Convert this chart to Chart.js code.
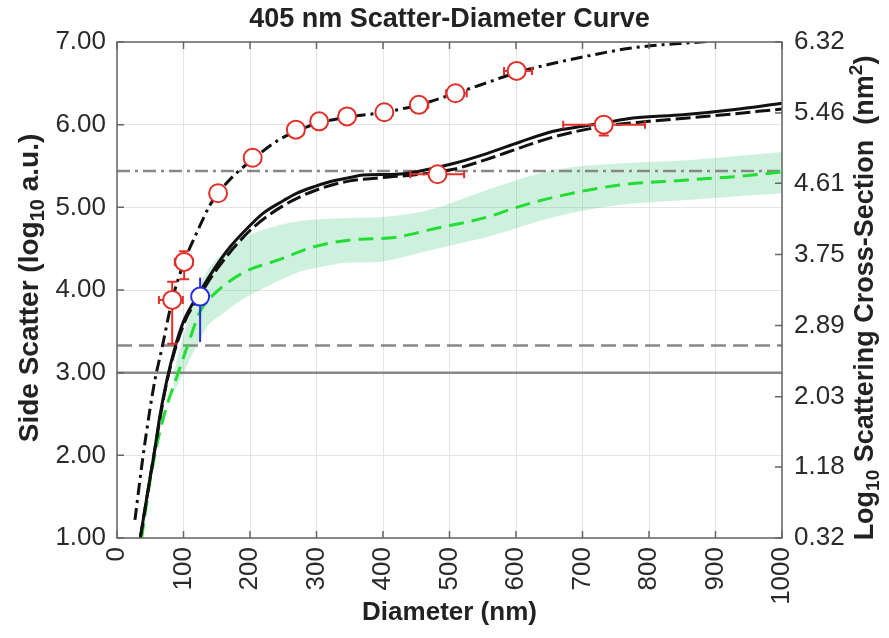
<!DOCTYPE html>
<html>
<head>
<meta charset="utf-8">
<script src="https://cdn.jsdelivr.net/npm/chart.js@4.4.0/dist/chart.umd.min.js"></script>
<style>
  html, body { margin: 0; padding: 0; background: #fff; }
</style>
</head>
<body>
<canvas id="chart" width="889" height="638"></canvas>
<script>
// ---- data ----
const dashDotDiam = [27, 38, 50, 57, 68, 83, 102, 122, 140, 152, 175, 204, 240, 269, 304, 346, 402, 454, 509, 550, 601, 650, 701, 776, 877, 1000];
const dashDotSSC  = [1.22, 1.92, 2.58, 2.91, 3.31, 3.88, 4.36, 4.73, 5.03, 5.17, 5.38, 5.58, 5.80, 5.92, 6.02, 6.09, 6.15, 6.24, 6.38, 6.49, 6.63, 6.73, 6.82, 6.93, 7.00, 7.08];

const solidDiam = [35, 45, 55, 65, 75, 86, 100, 125, 150, 170, 200, 220, 250, 270, 300, 320, 350, 370, 420, 456, 506, 556, 606, 656, 700, 731, 776, 851, 926, 1000];
const solidSSC  = [1.00, 1.50, 1.98, 2.50, 2.91, 3.27, 3.62, 3.98, 4.30, 4.52, 4.78, 4.93, 5.08, 5.17, 5.26, 5.31, 5.36, 5.39, 5.40, 5.44, 5.53, 5.65, 5.79, 5.92, 5.98, 6.02, 6.08, 6.12, 6.18, 6.26];

const dashedDiam = [35, 55, 75, 100, 125, 150, 200, 250, 300, 350, 400, 456, 506, 556, 606, 656, 731, 800, 900, 1000];
const dashedSSC  = [1.00, 1.98, 2.89, 3.58, 3.94, 4.25, 4.72, 5.02, 5.21, 5.32, 5.36, 5.40, 5.46, 5.58, 5.72, 5.85, 5.98, 6.04, 6.11, 6.19];

const greenDiam = [37, 50, 62, 75, 90, 105, 125, 150, 190, 245, 295, 346, 421, 471, 556, 601, 656, 756, 857, 956, 1000];
const greenSSC  = [1.00, 1.70, 2.20, 2.60, 2.95, 3.30, 3.74, 3.98, 4.21, 4.37, 4.52, 4.60, 4.64, 4.73, 4.88, 5.00, 5.12, 5.27, 5.33, 5.39, 5.43];

const bandDiam  = [85, 100, 115, 135, 160, 196, 220, 271, 295, 346, 395, 421, 471, 556, 656, 756, 857, 1000];
const bandUpper = [3.00, 3.45, 3.85, 4.22, 4.45, 4.65, 4.73, 4.83, 4.85, 4.87, 4.88, 4.90, 4.97, 5.21, 5.45, 5.53, 5.57, 5.67];
const bandLower = [2.75, 3.00, 3.25, 3.55, 3.72, 3.92, 4.02, 4.21, 4.26, 4.33, 4.34, 4.38, 4.48, 4.64, 4.88, 5.03, 5.09, 5.17];

// red measured beads
const redDiam   = [83, 101, 152, 204, 269, 304, 346, 402, 454, 482, 509, 601, 732];
const redSSC    = [3.88, 4.34, 5.17, 5.60, 5.94, 6.04, 6.10, 6.15, 6.24, 5.40, 6.38, 6.65, 6.00];
const redDiamLo = [63, 87, 148, 200, 265, 300, 342, 398, 448, 441, 495, 582, 671];
const redDiamHi = [99, 114, 156, 208, 273, 308, 350, 406, 468, 522, 526, 624, 794];
const redSSCLo  = [3.35, 4.13, 5.15, 5.58, 5.92, 6.02, 6.08, 6.13, 6.22, 5.38, 6.36, 6.63, 5.87];
const redSSCHi  = [4.10, 4.47, 5.19, 5.62, 5.96, 6.06, 6.12, 6.17, 6.26, 5.42, 6.40, 6.67, 6.05];

// blue bead
const blueDiam  = [125];
const blueSSC   = [3.92];
const blueSSCLo = [3.37];
const blueSSCHi = [4.15];

// horizontal reference levels
const solidRef = 3.00;
const dashedRef = 3.33;
const dashDotRef = 5.44;

const xTicks = [0, 100, 200, 300, 400, 500, 600, 700, 800, 900, 1000];
const leftTicks = [1, 2, 3, 4, 5, 6, 7];
const rightTicks = [0.32, 1.18, 2.03, 2.89, 3.75, 4.61, 5.46, 6.32];

const pts = (xs, ys) => xs.map((x, i) => ({ x: x, y: ys[i] }));
const hline = (v) => [{ x: 0, y: v }, { x: 1000, y: v }];

const FONT = 'Liberation Sans, Arial, Helvetica, sans-serif';

// error bars drawn just before the marker dataset itself
function drawErrors(chart, xs, ys, xlo, xhi, ylo, yhi, color, caps) {
  const ctx = chart.ctx, sx = chart.scales.x, sy = chart.scales.y;
  ctx.save();
  ctx.strokeStyle = color;
  ctx.lineWidth = 2;
  xs.forEach((x, i) => {
    const px = sx.getPixelForValue(x), py = sy.getPixelForValue(ys[i]);
    if (ylo) {
      const a = sy.getPixelForValue(ylo[i]), b = sy.getPixelForValue(yhi[i]);
      ctx.beginPath(); ctx.moveTo(px, a); ctx.lineTo(px, b); ctx.stroke();
      if (caps) {
        ctx.beginPath(); ctx.moveTo(px - 5, a); ctx.lineTo(px + 5, a);
        ctx.moveTo(px - 5, b); ctx.lineTo(px + 5, b); ctx.stroke();
      }
    }
    if (xlo) {
      const a = sx.getPixelForValue(xlo[i]), b = sx.getPixelForValue(xhi[i]);
      ctx.beginPath(); ctx.moveTo(a, py); ctx.lineTo(b, py); ctx.stroke();
      if (caps) {
        ctx.beginPath(); ctx.moveTo(a, py - 4); ctx.lineTo(a, py + 4);
        ctx.moveTo(b, py - 4); ctx.lineTo(b, py + 4); ctx.stroke();
      }
    }
  });
  ctx.restore();
}

// text with sub/superscript pieces
function richText(ctx, parts, cx, cy, angle, size) {
  const big = 'bold ' + size + 'px ' + FONT, small = 'bold ' + Math.round(size * 0.7) + 'px ' + FONT;
  let total = 0;
  parts.forEach(p => { ctx.font = p.s ? small : big; total += ctx.measureText(p.t).width; });
  ctx.save();
  ctx.translate(cx, cy);
  ctx.rotate(angle);
  ctx.fillStyle = '#222';
  ctx.textBaseline = 'middle';
  ctx.textAlign = 'left';
  let x = -total / 2;
  parts.forEach(p => {
    ctx.font = p.s ? small : big;
    const dy = p.s === 'sub' ? size * 0.3 : p.s === 'sup' ? -size * 0.35 : 0;
    ctx.fillText(p.t, x, dy);
    x += ctx.measureText(p.t).width;
  });
  ctx.restore();
}

const errorPlugin = {
  id: 'errors',
  beforeDatasetDraw(chart, args) {
    const label = chart.data.datasets[args.index].label;
    if (label === 'red') drawErrors(chart, redDiam, redSSC, redDiamLo, redDiamHi, redSSCLo, redSSCHi, '#e0302a', true);
    if (label === 'blue') drawErrors(chart, blueDiam, blueSSC, null, null, blueSSCLo, blueSSCHi, '#2a2ae6', false);
  }
};

const framePlugin = {
  id: 'frame',
  afterDraw(chart) {
    const ctx = chart.ctx, a = chart.chartArea;
    const sx = chart.scales.x, sy = chart.scales.y, sy2 = chart.scales.y2;
    ctx.save();
    ctx.strokeStyle = '#666';
    ctx.lineWidth = 1.5;
    ctx.strokeRect(a.left, a.top, a.right - a.left, a.bottom - a.top);
    // inward tick marks
    ctx.beginPath();
    xTicks.forEach(v => {
      const p = sx.getPixelForValue(v);
      ctx.moveTo(p, a.bottom); ctx.lineTo(p, a.bottom - 7);
      ctx.moveTo(p, a.top); ctx.lineTo(p, a.top + 7);
    });
    leftTicks.forEach(v => {
      const p = sy.getPixelForValue(v);
      ctx.moveTo(a.left, p); ctx.lineTo(a.left + 7, p);
    });
    rightTicks.forEach(v => {
      const p = sy2.getPixelForValue(v);
      ctx.moveTo(a.right, p); ctx.lineTo(a.right - 7, p);
    });
    ctx.stroke();
    ctx.restore();

    const mid = (a.left + a.right) / 2;
    richText(ctx, [{ t: '405 nm Scatter-Diameter Curve' }], mid, 20, 0, 27);
    richText(ctx, [{ t: 'Diameter (nm)' }], mid, 613, 0, 26);
    richText(ctx, [{ t: 'Side Scatter (log' }, { t: '10', s: 'sub' }, { t: ' a.u.)' }], 30, 288, -Math.PI / 2, 28);
    richText(ctx, [{ t: 'Log' }, { t: '10', s: 'sub' }, { t: ' Scattering Cross-Section  (nm' }, { t: '2', s: 'sup' }, { t: ')' }], 866, 298, -Math.PI / 2, 27);
  }
};

const lineBase = { showLine: true, pointRadius: 0, fill: false, cubicInterpolationMode: 'monotone' };
const tickFont = { family: FONT, size: 26 };

new Chart(document.getElementById('chart'), {
  type: 'scatter',
  data: {
    datasets: [
      { ...lineBase, label: 'red', data: pts(redDiam, redSSC), showLine: false, pointRadius: 9, pointBorderWidth: 2,
        pointBackgroundColor: '#fff', pointBorderColor: '#e0302a', order: 0 },
      { ...lineBase, label: 'blue', data: pts(blueDiam, blueSSC), showLine: false, pointRadius: 9, pointBorderWidth: 2,
        pointBackgroundColor: '#fff', pointBorderColor: '#2a2ae6', order: 0 },
      { ...lineBase, label: 'dashdot', data: pts(dashDotDiam, dashDotSSC), borderColor: '#111', borderWidth: 3,
        borderDash: [12, 5, 3, 5], order: 2 },
      { ...lineBase, label: 'solid', data: pts(solidDiam, solidSSC), borderColor: '#111', borderWidth: 3, order: 2 },
      { ...lineBase, label: 'dashed', data: pts(dashedDiam, dashedSSC), borderColor: '#111', borderWidth: 3,
        borderDash: [15, 5], order: 3 },
      { ...lineBase, label: 'green', data: pts(greenDiam, greenSSC), borderColor: '#22dd33', borderWidth: 3,
        borderDash: [15, 8], order: 4 },
      { ...lineBase, label: 'refSolid', data: hline(solidRef), borderColor: '#888', borderWidth: 2.5, order: 5 },
      { ...lineBase, label: 'refDashed', data: hline(dashedRef), borderColor: '#888', borderWidth: 2.5,
        borderDash: [15, 7], order: 5 },
      { ...lineBase, label: 'refDashDot', data: hline(dashDotRef), borderColor: '#888', borderWidth: 2.5,
        borderDash: [13, 5, 3, 5], order: 5 },
      { ...lineBase, label: 'bandHi', data: pts(bandDiam, bandUpper), borderWidth: 0, borderColor: 'rgba(0,0,0,0)', order: 6 },
      { ...lineBase, label: 'bandLo', data: pts(bandDiam, bandLower), borderWidth: 0, borderColor: 'rgba(0,0,0,0)',
        fill: '-1', backgroundColor: 'rgba(60, 200, 120, 0.25)', order: 6 }
    ]
  },
  options: {
    responsive: false,
    animation: false,
    devicePixelRatio: 1,
    layout: { padding: { top: 42, left: 0, right: 0, bottom: 0 } },
    plugins: { legend: { display: false }, tooltip: { enabled: false }, title: { display: false } },
    scales: {
      x: {
        type: 'linear', min: 0, max: 1000,
        afterFit: s => { s.height = 100; },
        afterBuildTicks: s => { s.ticks = xTicks.map(v => ({ value: v })); },
        grid: { color: '#e4e4e4', lineWidth: 1, drawTicks: false },
        border: { display: false },
        ticks: { minRotation: 90, maxRotation: 90, padding: 9, color: '#2a2a2a', font: tickFont, callback: v => String(v) }
      },
      y: {
        type: 'linear', position: 'left', min: 1, max: 7,
        afterFit: s => { s.width = 117; },
        afterBuildTicks: s => { s.ticks = leftTicks.map(v => ({ value: v })); },
        grid: { color: '#e4e4e4', lineWidth: 1, drawTicks: false },
        border: { display: false },
        ticks: { padding: 11, color: '#2a2a2a', font: tickFont, callback: v => v.toFixed(2) }
      },
      y2: {
        type: 'linear', position: 'right', min: 0.32, max: 6.32,
        afterFit: s => { s.width = 107; },
        afterBuildTicks: s => { s.ticks = rightTicks.map(v => ({ value: v })); },
        grid: { display: false, drawTicks: false },
        border: { display: false },
        ticks: { padding: 12, color: '#2a2a2a', font: tickFont, callback: v => v.toFixed(2) }
      }
    }
  },
  plugins: [errorPlugin, framePlugin]
});
</script>
</body>
</html>
